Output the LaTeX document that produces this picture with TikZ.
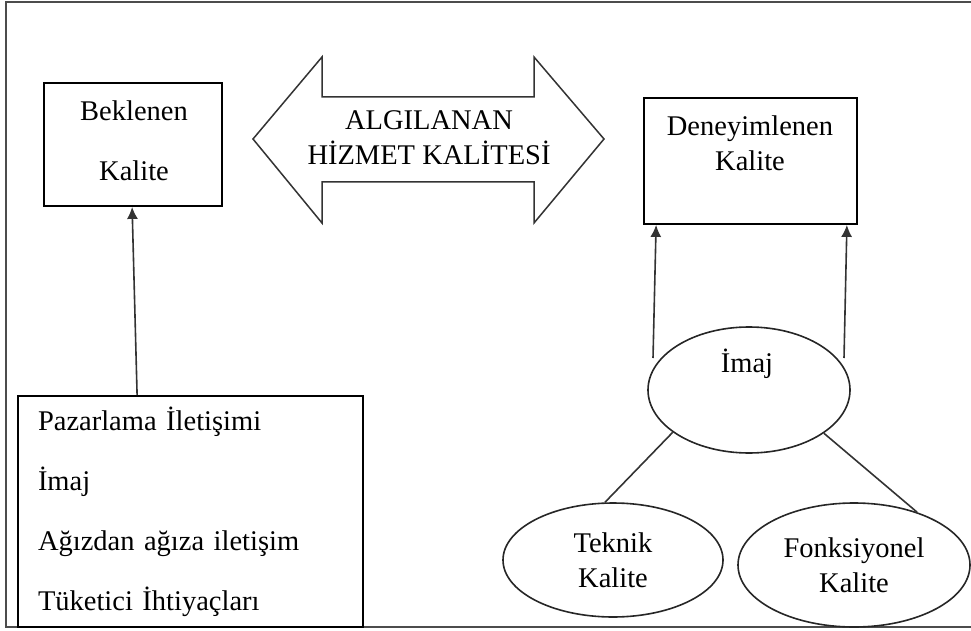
\documentclass[tikz,border=0pt]{standalone}
\usepackage{fontspec}
\setmainfont{Liberation Serif}
\usetikzlibrary{shapes.geometric,arrows.meta,calc}
\begin{document}
\begin{tikzpicture}[x=1pt,y=-1pt,
  every node/.style={font=\fontsize{28.5}{35}\selectfont},
  frameline/.style={line width=2pt,draw=black!70},
  box/.style={draw,line width=1.8pt,rectangle,inner sep=0pt},
  oval/.style={draw=black!85,line width=1.6pt,ellipse,inner sep=0pt,align=center},
  txt/.style={align=center,inner sep=0pt},
  conn/.style={line width=1.6pt,draw=black!80},
  arr/.style={conn,-{Latex[length=12pt,width=11pt]}},
  bigarrow/.style={draw=black!80,line width=1.5pt,line join=miter}]
\useasboundingbox (0,0) rectangle (971,631);

% outer frame (open on the right)
\draw[frameline] (971,2) -- (6,2) -- (6,627) -- (971,627);

% expected quality
\node[box, minimum width=178pt, minimum height=123pt] (bek) at (133,144.5) {};
\node[txt] (bektx) at (134,141) {Beklenen\\[25pt]Kalite};

% perceived service quality double arrow
\draw[bigarrow] (253,139) -- (322,57) -- (322,97) -- (534,97) -- (534,57) -- (604,139)
  -- (534,223) -- (534,182) -- (322,182) -- (322,223) -- cycle;
\node[txt] (ahk) at (429,138) {ALGILANAN\\HİZMET KALİTESİ};

% experienced quality
\node[box, minimum width=213pt, minimum height=126pt] (den) at (750.5,161) {};
\node[txt] (dtx) at (750,143) {Deneyimlenen\\Kalite};

% factors of expected quality
\node[box, minimum width=345pt, minimum height=231pt, text width=305pt, align=left] (lst) at (190.5,511.5)
  {Pazarlama İletişimi\\[25pt]İmaj\\[25pt]Ağızdan ağıza iletişim\\[25pt]Tüketici İhtiyaçları};

% image and its components
\node[oval, minimum width=202pt, minimum height=126pt] (imaj) at (749,390) {};
\node[txt] (imtx) at (747,364) {İmaj};
\node[oval, minimum width=220pt, minimum height=114pt] (tek) at (613,560) {Teknik\\Kalite};
\node[oval, minimum width=232pt, minimum height=124pt] (fon) at (854,565) {Fonksiyonel\\Kalite};

% connectors
\draw[arr] ($(lst.north west)+(120,0)$) -- ($(bek.south west)+(89,0)$);
\draw[arr] ($(imaj.center)+(-96,-32)$) -- ($(den.south west)+(13,0)$);
\draw[arr] ($(imaj.center)+(95,-32)$) -- ($(den.south east)+(-11,0)$);
\draw[conn] (imaj.209) -- (tek.98);
\draw[conn] (imaj.330) -- (fon.40);
\end{tikzpicture}
\end{document}
